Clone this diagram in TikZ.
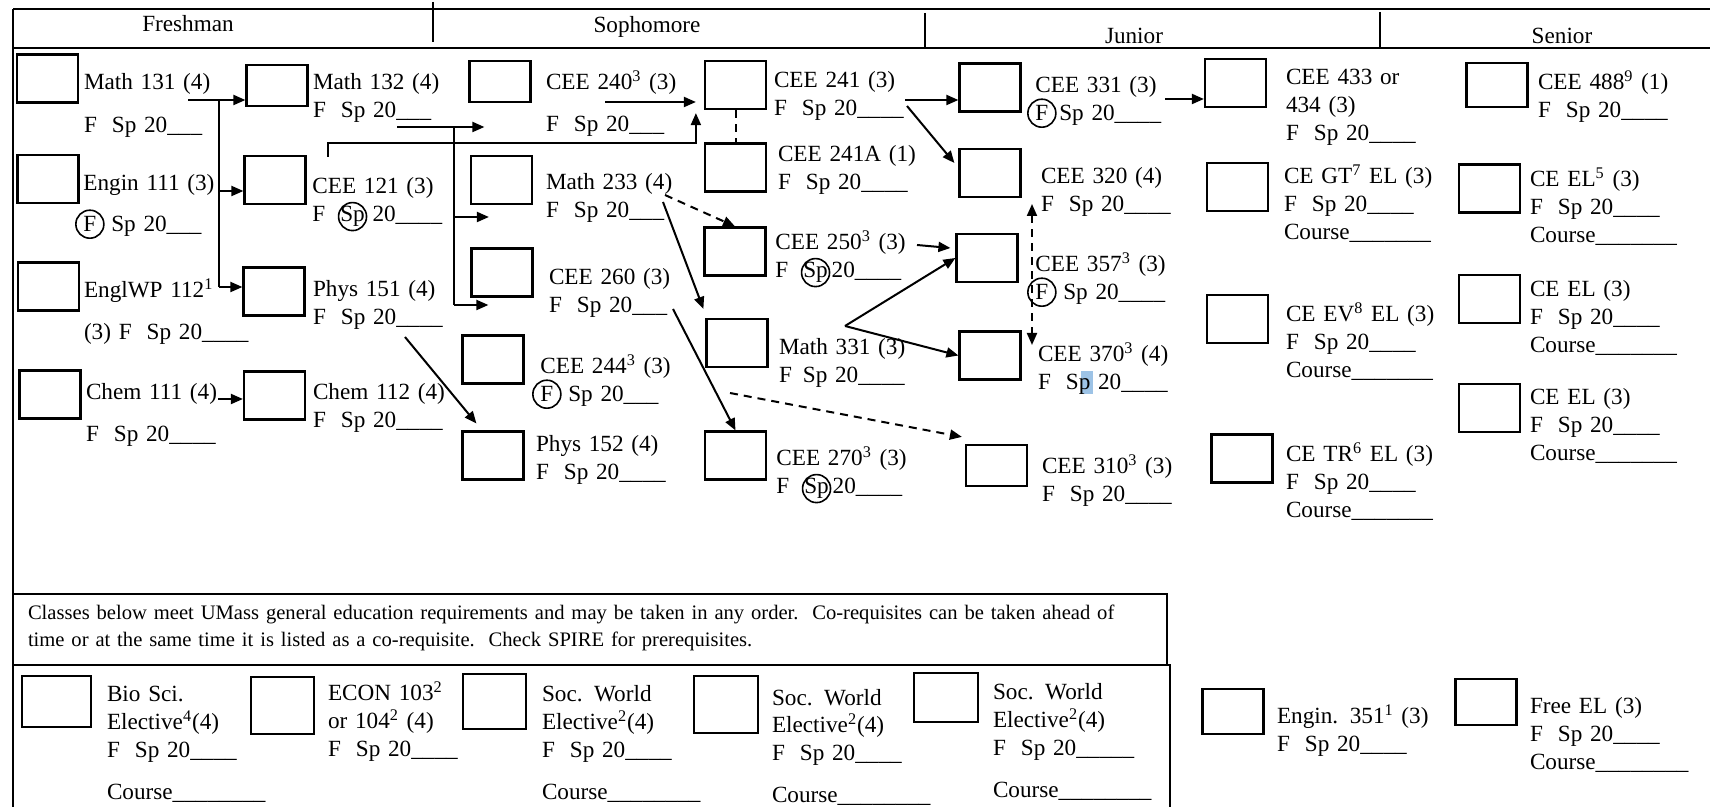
\documentclass[tikz,border=0pt]{standalone}
\usepackage{fontspec}
\setmainfont{Liberation Serif}
\usepackage{tikz}
\usetikzlibrary{arrows.meta, calc}
\definecolor{selblue}{HTML}{9DC3E6}

\tikzset{
    crsbox/.style={draw, line width=1.1pt, minimum width=30.5pt, minimum height=24pt, inner sep=0pt},
    crstext/.style={anchor=base west, align=left, text width=90pt, inner sep=0pt},
    yearhead/.style={inner sep=0pt},
    prereq/.style={->, line width=1pt},
    coreq/.style={->, line width=1pt, dash pattern=on 4pt off 3pt},
    dashline/.style={line width=1pt, dash pattern=on 4pt off 3pt},
}
\newcommand{\ring}[1]{\tikz[baseline=(r.base)]{\node[inner sep=0pt, anchor=base, text width={}, align=center] (r) {#1}; \draw[overlay, line width=0.8pt] (r.center) circle (7pt);}}
\newcommand{\wsp}{\hspace{7.5pt}}
\newcommand{\nsp}{\hspace{5.5pt}}

\begin{document}
\begin{tikzpicture}[x=0.5pt, y=-0.5pt, line width=1pt,
    >={Triangle[length=6pt, width=5pt]},
    font=\fontsize{11.6pt}{13.9pt}\selectfont]
    \useasboundingbox (0,0) rectangle (1710,807);

    % ── Header row ───────────────────────────────────────────────────
    \draw (13,9) -- (1710,9);
    \draw (13,48) -- (1710,48);
    \draw (13,9) -- (13,807);
    \draw (433,2) -- (433,42);
    \draw (925,13) -- (925,49);
    \draw (1380,12) -- (1380,48);
    \node[yearhead] (hfr) at (188,24) {Freshman};
    \node[yearhead] (hso) at (647,27) {Sophomore};
    \node[yearhead] (hju) at (1134,36) {Junior};
    \node[yearhead] (hse) at (1562,36) {Senior};

    % ── Freshman ─────────────────────────────────────────────────────
    \node[crsbox] (m131b) at (47.5,78.5) {};
    \node[crstext] (m131t) at (83,90) {Math 131 (4)\\[7.5pt]F\wsp Sp 20\_\_\_};
    \node[crsbox] (e111b) at (48,179) {};
    \node[crstext] (e111t) at (83,191) {Engin 111 (3)\\[6.5pt]\ring{F}\wsp Sp 20\_\_\_};
    \node[crsbox] (ewpb) at (48.5,286.5) {};
    \node[crstext] (ewpt) at (83,298) {EnglWP 112\textsuperscript{1}\\[7pt](3) F\wsp Sp 20\_\_\_\_};
    \node[crsbox] (c111b) at (50,394.5) {};
    \node[crstext] (c111t) at (85,400) {Chem 111 (4)\\[7pt]F\wsp Sp 20\_\_\_\_};

    \node[crsbox, minimum height=20.5pt] (m132b) at (277,85.5) {};
    \node[crstext] (m132t) at (312,90) {Math 132 (4)\\F\wsp Sp 20\_\_\_};
    \node[crsbox] (c121b) at (275,180) {};
    \node[crstext] (c121t) at (312,194) {CEE 121 (3)\\F\wsp\ring{Sp} 20\_\_\_\_};
    \node[crsbox] (p151b) at (274,291.5) {};
    \node[crstext] (p151t) at (312,297) {Phys 151 (4)\\F\wsp Sp 20\_\_\_\_};
    \node[crsbox] (c112b) at (274.5,395.5) {};
    \node[crstext] (c112t) at (312,400) {Chem 112 (4)\\F\wsp Sp 20\_\_\_\_};

    % ── Sophomore ────────────────────────────────────────────────────
    \node[crsbox, minimum height=20.5pt] (c240b) at (500,81.5) {};
    \node[crstext] (c240t) at (545,90) {CEE 240\textsuperscript{3} (3)\\[7pt]F\wsp Sp 20\_\_\_};
    \node[crsbox] (m233b) at (501.5,180) {};
    \node[crstext] (m233t) at (545,190) {Math 233 (4)\\F\wsp Sp 20\_\_\_};
    \node[crsbox] (c260b) at (502,272.5) {};
    \node[crstext] (c260t) at (548,285) {CEE 260 (3)\\F\wsp Sp 20\_\_\_};
    \node[crsbox] (c244b) at (493,359.5) {};
    \node[crstext] (c244t) at (540,374) {CEE 244\textsuperscript{3} (3)\\\ring{F}\wsp Sp 20\_\_\_};
    \node[crsbox] (p152b) at (493,455.5) {};
    \node[crstext] (p152t) at (535,452) {Phys 152 (4)\\F\wsp Sp 20\_\_\_\_};

    \node[crsbox] (c241b) at (735.5,85) {};
    \node[crstext] (c241t) at (773,88) {CEE 241 (3)\\F\wsp Sp 20\_\_\_\_};
    \node[crsbox] (c241ab) at (735.5,167.5) {};
    \node[crstext] (c241at) at (777,162) {CEE 241A (1)\\F\wsp Sp 20\_\_\_\_};
    \node[crsbox] (c250b) at (735,251.5) {};
    \node[crstext] (c250t) at (775,250) {CEE 250\textsuperscript{3} (3)\\F\wsp\ring{Sp}\,20\_\_\_\_};
    \node[crsbox] (m331b) at (737,343) {};
    \node[crstext] (m331t) at (778,355) {Math 331 (3)\\F\nsp Sp 20\_\_\_\_};
    \node[crsbox] (c270b) at (735.5,455.5) {};
    \node[crstext] (c270t) at (776,466) {CEE 270\textsuperscript{3} (3)\\F\wsp\ring{Sp}\,20\_\_\_\_};

    % ── Junior ───────────────────────────────────────────────────────
    \node[crsbox] (c331b) at (990,87.5) {};
    \node[crstext] (c331t) at (1035,93) {CEE 331 (3)\\\ring{F}\nsp Sp 20\_\_\_\_};
    \node[crsbox] (c320b) at (990,173) {};
    \node[crstext] (c320t) at (1040,184) {CEE 320 (4)\\F\wsp Sp 20\_\_\_\_};
    \node[crsbox] (c357b) at (987,258) {};
    \node[crstext] (c357t) at (1035,272) {CEE 357\textsuperscript{3} (3)\\\ring{F}\wsp Sp 20\_\_\_\_};
    \node[crsbox] (c370b) at (990,355.5) {};
    \fill[selblue] (1081,371) rectangle (1093,394);
    \node[crstext] (c370t) at (1037,362) {CEE 370\textsuperscript{3} (4)\\F\wsp Sp 20\_\_\_\_};
    \node[crsbox, minimum height=20.5pt] (c310b) at (996.5,465.5) {};
    \node[crstext] (c310t) at (1041,474) {CEE 310\textsuperscript{3} (3)\\F\wsp Sp 20\_\_\_\_};

    \node[crsbox] (c433b) at (1235.5,83) {};
    \node[crstext] (c433t) at (1285,85) {CEE 433 or\\434 (3)\\F\wsp Sp 20\_\_\_\_};
    \node[crsbox] (cgtb) at (1237.5,187) {};
    \node[crstext] (cgtt) at (1283,184) {CE GT\textsuperscript{7} EL (3)\\F\wsp Sp 20\_\_\_\_\\Course\_\_\_\_\_\_\_};
    \node[crsbox] (cevb) at (1237.5,319) {};
    \node[crstext] (cevt) at (1285,322) {CE EV\textsuperscript{8} EL (3)\\F\wsp Sp 20\_\_\_\_\\Course\_\_\_\_\_\_\_};
    \node[crsbox] (ctrb) at (1242,458.5) {};
    \node[crstext] (ctrt) at (1285,462) {CE TR\textsuperscript{6} EL (3)\\F\wsp Sp 20\_\_\_\_\\Course\_\_\_\_\_\_\_};

    % ── Senior ───────────────────────────────────────────────────────
    \node[crsbox, minimum height=22pt] (c488b) at (1497,85) {};
    \node[crstext] (c488t) at (1537,90) {CEE 488\textsuperscript{9} (1)\\F\wsp Sp 20\_\_\_\_};
    \node[crsbox] (cel5b) at (1489.5,188.5) {};
    \node[crstext] (cel5t) at (1529,187) {CE EL\textsuperscript{5} (3)\\F\wsp Sp 20\_\_\_\_\\Course\_\_\_\_\_\_\_};
    \node[crsbox] (celab) at (1489.5,299) {};
    \node[crstext] (celat) at (1529,297) {CE EL (3)\\F\wsp Sp 20\_\_\_\_\\Course\_\_\_\_\_\_\_};
    \node[crsbox] (celbb) at (1489.5,408) {};
    \node[crstext] (celbt) at (1529,405) {CE EL (3)\\F\wsp Sp 20\_\_\_\_\\Course\_\_\_\_\_\_\_};

    % ── Prerequisite arrows ──────────────────────────────────────────
    \coordinate (m131out) at (188,100);
    \coordinate (m131bus) at (219,100);
    \coordinate (c121in) at (219,191);
    \coordinate (p151in) at (219,287);
    \draw[prereq] (m131out) -- (m131out -| m132b.west);
    \draw (m131bus) -- (p151in);
    \draw[prereq] (c121in) -- (c121in -| c121b.west);
    \draw[prereq] (p151in) -- (p151in -| p151b.west);

    \coordinate (c111out) at (218,399);
    \draw[prereq] (c111out) -- (c111out -| c112b.west);

    \coordinate (m132out) at (397,127);
    \coordinate (m132bus) at (454,127);
    \coordinate (m233in) at (454,217);
    \coordinate (c260in) at (454,305);
    \draw[prereq] (m132out) -- ($(m132out -| c240b.west)+(16,0)$);
    \draw (m132bus) -- (c260in);
    \draw[prereq] (m233in) -- ($(m233in -| m233b.west)+(19,0)$);
    \draw[prereq] (c260in) -- ($(c260in -| c260b.west)+(18,0)$);

    \coordinate (c121out) at (328,157);
    \draw[prereq] (c121out) -- ++(0,-14) -| ($(c241b.south west)+(-8,3)$);
    \coordinate (c240out) at (605,102);
    \draw[prereq] (c240out) -- ($(c240out -| c241b.west)+(-8,0)$);
    \draw[dashline] (c241b) -- (c241ab);

    \coordinate (c241out) at (905,100);
    \draw[prereq] (c241out) -- (c241out -| c331b.west);
    \coordinate (c241dn) at (907,106);
    \draw[prereq] (c241dn) -- ($(c320b.west)+(-4,-10)$);
    \coordinate (c331out) at (1165,99);
    \draw[prereq] (c331out) -- (c331out -| c433b.west);

    \coordinate (m233out) at (665,195);
    \draw[coreq] (m233out) -- (c250b.north);
    \coordinate (m233dn) at (663,202);
    \draw[prereq] (m233dn) -- ($(m331b.north west)+(-2,-9)$);

    \coordinate (c250out) at (917,245);
    \draw[prereq] (c250out) -- ($(c357b.west)+(-5,-10)$);
    \coordinate (m331out) at (845,326);
    \draw[prereq] (m331out) -- (c357b.west);
    \draw[prereq] (m331out) -- (c370b.west);
    \coordinate (c357up) at (1032,204);
    \coordinate (c357dn) at (1032,345);
    \draw[coreq, <->] (c357up) -- (c357dn);

    \coordinate (c260out) at (673,309);
    \draw[prereq] (c260out) -- (c270b.north);
    \coordinate (m331dash) at (730,393);
    \draw[coreq] (m331dash) -- ($(c310b.north west)+(-3,-7)$);
    \coordinate (p151out) at (405,337);
    \draw[prereq] (p151out) -- ($(p152b.north west)+(15,-7)$);

    % ── Gen-ed block ─────────────────────────────────────────────────
    \draw (13,594) rectangle (1167,665);
    \draw (13,665) -- (1170,665) -- (1170,807);
    \node[crstext, text width=570pt, font=\fontsize{10.3pt}{13.5pt}\selectfont] (note) at (27,620)
        {Classes below meet UMass general education requirements and may be taken in any order.\ \ Co-requisites can be taken ahead of\\time or at the same time it is listed as a co-requisite.\ \ Check SPIRE for prerequisites.};

    \node[crsbox, minimum width=34.5pt, minimum height=25.5pt] (biob) at (56.5,701.5) {};
    \node[crstext] (biot) at (106,702) {Bio Sci.\\Elective\textsuperscript{4}(4)\\F\wsp Sp 20\_\_\_\_\\[7pt]Course\_\_\_\_\_\_\_\_};
    \node[crsbox, minimum width=31.5pt, minimum height=28.5pt] (econb) at (282.5,705.5) {};
    \node[crstext] (econt) at (327,701) {ECON 103\textsuperscript{2}\\or 104\textsuperscript{2} (4)\\F\wsp Sp 20\_\_\_\_};
    \node[crsbox, minimum width=31.5pt, minimum height=27.5pt] (soc1b) at (494.5,701.5) {};
    \node[crstext] (soc1t) at (541,702) {Soc. World\\Elective\textsuperscript{2}(4)\\F\wsp Sp 20\_\_\_\_\\[7pt]Course\_\_\_\_\_\_\_\_};
    \node[crsbox, minimum width=32pt, minimum height=28.5pt] (soc2b) at (726,704.5) {};
    \node[crstext] (soc2t) at (771,705) {Soc. World\\Elective\textsuperscript{2}(4)\\F\wsp Sp 20\_\_\_\_\\[7pt]Course\_\_\_\_\_\_\_\_};
    \node[crsbox, minimum width=32pt, minimum height=24.5pt] (soc3b) at (946,697.5) {};
    \node[crstext] (soc3t) at (992,700) {Soc. World\\Elective\textsuperscript{2}(4)\\F\wsp Sp 20\_\_\_\_\_\\[7pt]Course\_\_\_\_\_\_\_\_};

    \node[crsbox, minimum height=22.5pt] (e351b) at (1233,711.5) {};
    \node[crstext] (e351t) at (1276,724) {Engin. 351\textsuperscript{1} (3)\\F\wsp Sp 20\_\_\_\_};
    \node[crsbox, minimum height=23pt] (freeb) at (1486,702) {};
    \node[crstext] (freet) at (1529,714) {Free EL (3)\\F\wsp Sp 20\_\_\_\_\\Course\_\_\_\_\_\_\_\_};
\end{tikzpicture}
\end{document}
